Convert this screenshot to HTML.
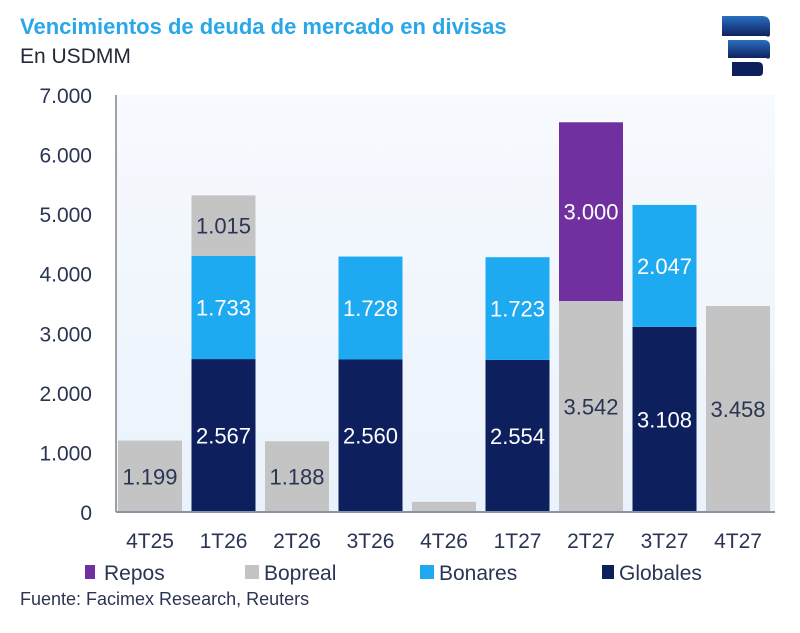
<!DOCTYPE html>
<html><head><meta charset="utf-8"><style>
body{margin:0;background:#fff;width:800px;height:628px;overflow:hidden;font-family:"Liberation Sans",sans-serif}
</style></head><body>
<svg width="800" height="628" xmlns="http://www.w3.org/2000/svg">
<defs><linearGradient id="bg" x1="0" y1="0" x2="0" y2="1"><stop offset="0" stop-color="#f7fafe"/><stop offset="1" stop-color="#eaf2fb"/></linearGradient>
<linearGradient id="lg" x1="0" y1="0" x2="0" y2="1"><stop offset="0" stop-color="#2a6fc0"/><stop offset="1" stop-color="#0d1f5c"/></linearGradient></defs>
<text x="20" y="34" font-size="22" font-weight="bold" fill="#2aa7e8">Vencimientos de deuda de mercado en divisas</text>
<text x="20" y="63" font-size="21" fill="#222a3a">En USDMM</text>
<g>
<path d="M722 16 h40 q8 0 8 8 v10 q0 4-4 2 h-44 z" fill="url(#lg)"/>
<path d="M728 40 h36 q6 0 6 6 v10 q0 4-4 2 h-38 z" fill="url(#lg)"/>
<path d="M732 62 h26 q5 0 5 5 v5 q0 4-4 4 h-27 z" fill="#0d1f5c"/>
</g>
<rect x="116" y="95" width="659" height="417" fill="url(#bg)"/>
<g id="yaxis"></g><g id="bars"></g><g id="xaxis"></g>
<line x1="116" y1="95" x2="116" y2="512" stroke="#666" stroke-width="1.2"/>
<line x1="116" y1="512" x2="775" y2="512" stroke="#8a93a6" stroke-width="2"/>
<g font-size="21" fill="#2a3553">
<rect x="85" y="565" width="10" height="14" fill="#7030a0"/><text x="104" y="580">Repos</text>
<rect x="245" y="565" width="14" height="14" fill="#c4c4c4"/><text x="264" y="580">Bopreal</text>
<rect x="420" y="565" width="14" height="14" fill="#1eaaf1"/><text x="439" y="580">Bonares</text>
<rect x="602" y="565" width="12" height="14" fill="#0d1f5c"/><text x="619" y="580">Globales</text>
</g>
<text x="20" y="605" font-size="18" fill="#2a3553">Fuente: Facimex Research, Reuters</text>
</svg>
<script>
const categories=["4T25","1T26","2T26","3T26","4T26","1T27","2T27","3T27","4T27"];
const globales=[0,2567,0,2560,0,2554,0,3108,0];
const bonares=[0,1733,0,1728,0,1723,0,2047,0];
const bopreal=[1199,1015,1188,0,170,0,3542,0,3458];
const repos=[0,0,0,0,0,0,3000,0,0];
const showLabel=[true,true,true,true,false,true,true,true,true];
const yTicks=[0,1000,2000,3000,4000,5000,6000,7000];
const yTickLabels=["0","1.000","2.000","3.000","4.000","5.000","6.000","7.000"];
const NS="http://www.w3.org/2000/svg";
const y=v=>512-v*417/7000;
const xc=i=>150+i*73.5;
const fmt=v=>{const s=String(v);return s.length>3?s.slice(0,s.length-3)+"."+s.slice(-3):s;};
function mk(t,a,p){const e=document.createElementNS(NS,t);for(const k in a)e.setAttribute(k,a[k]);p.appendChild(e);return e;}
const ya=document.getElementById('yaxis'),ba=document.getElementById('bars'),xa=document.getElementById('xaxis');
yTicks.forEach((v,i)=>{const t=mk('text',{x:92,y:y(v)+8,'font-size':21,fill:'#2a3553','text-anchor':'end'},ya);t.textContent=yTickLabels[i];

});
const series=[[globales,'#0d1f5c','#fff','globales'],[bonares,'#1eaaf1','#fff','bonares'],[bopreal,'#c4c4c4','#2a3553','bopreal'],[repos,'#7030a0','#fff','repos']];
categories.forEach((c,i)=>{let base=0;
series.forEach(([arr,col,tc,nm])=>{const v=arr[i];if(!v)return;
const r=mk('rect',{x:xc(i)-32,y:y(base+v),width:64,height:y(base)-y(base+v),fill:col},ba);


if(showLabel[i]){const t=mk('text',{x:xc(i),y:(y(base)+y(base+v))/2+8,'font-size':22,fill:tc,'text-anchor':'middle'},ba);t.textContent=fmt(v);

}
base+=v;});
const t=mk('text',{x:xc(i),y:548,'font-size':21,fill:'#2a3553','text-anchor':'middle'},xa);t.textContent=c;

});
</script>
</body></html>
